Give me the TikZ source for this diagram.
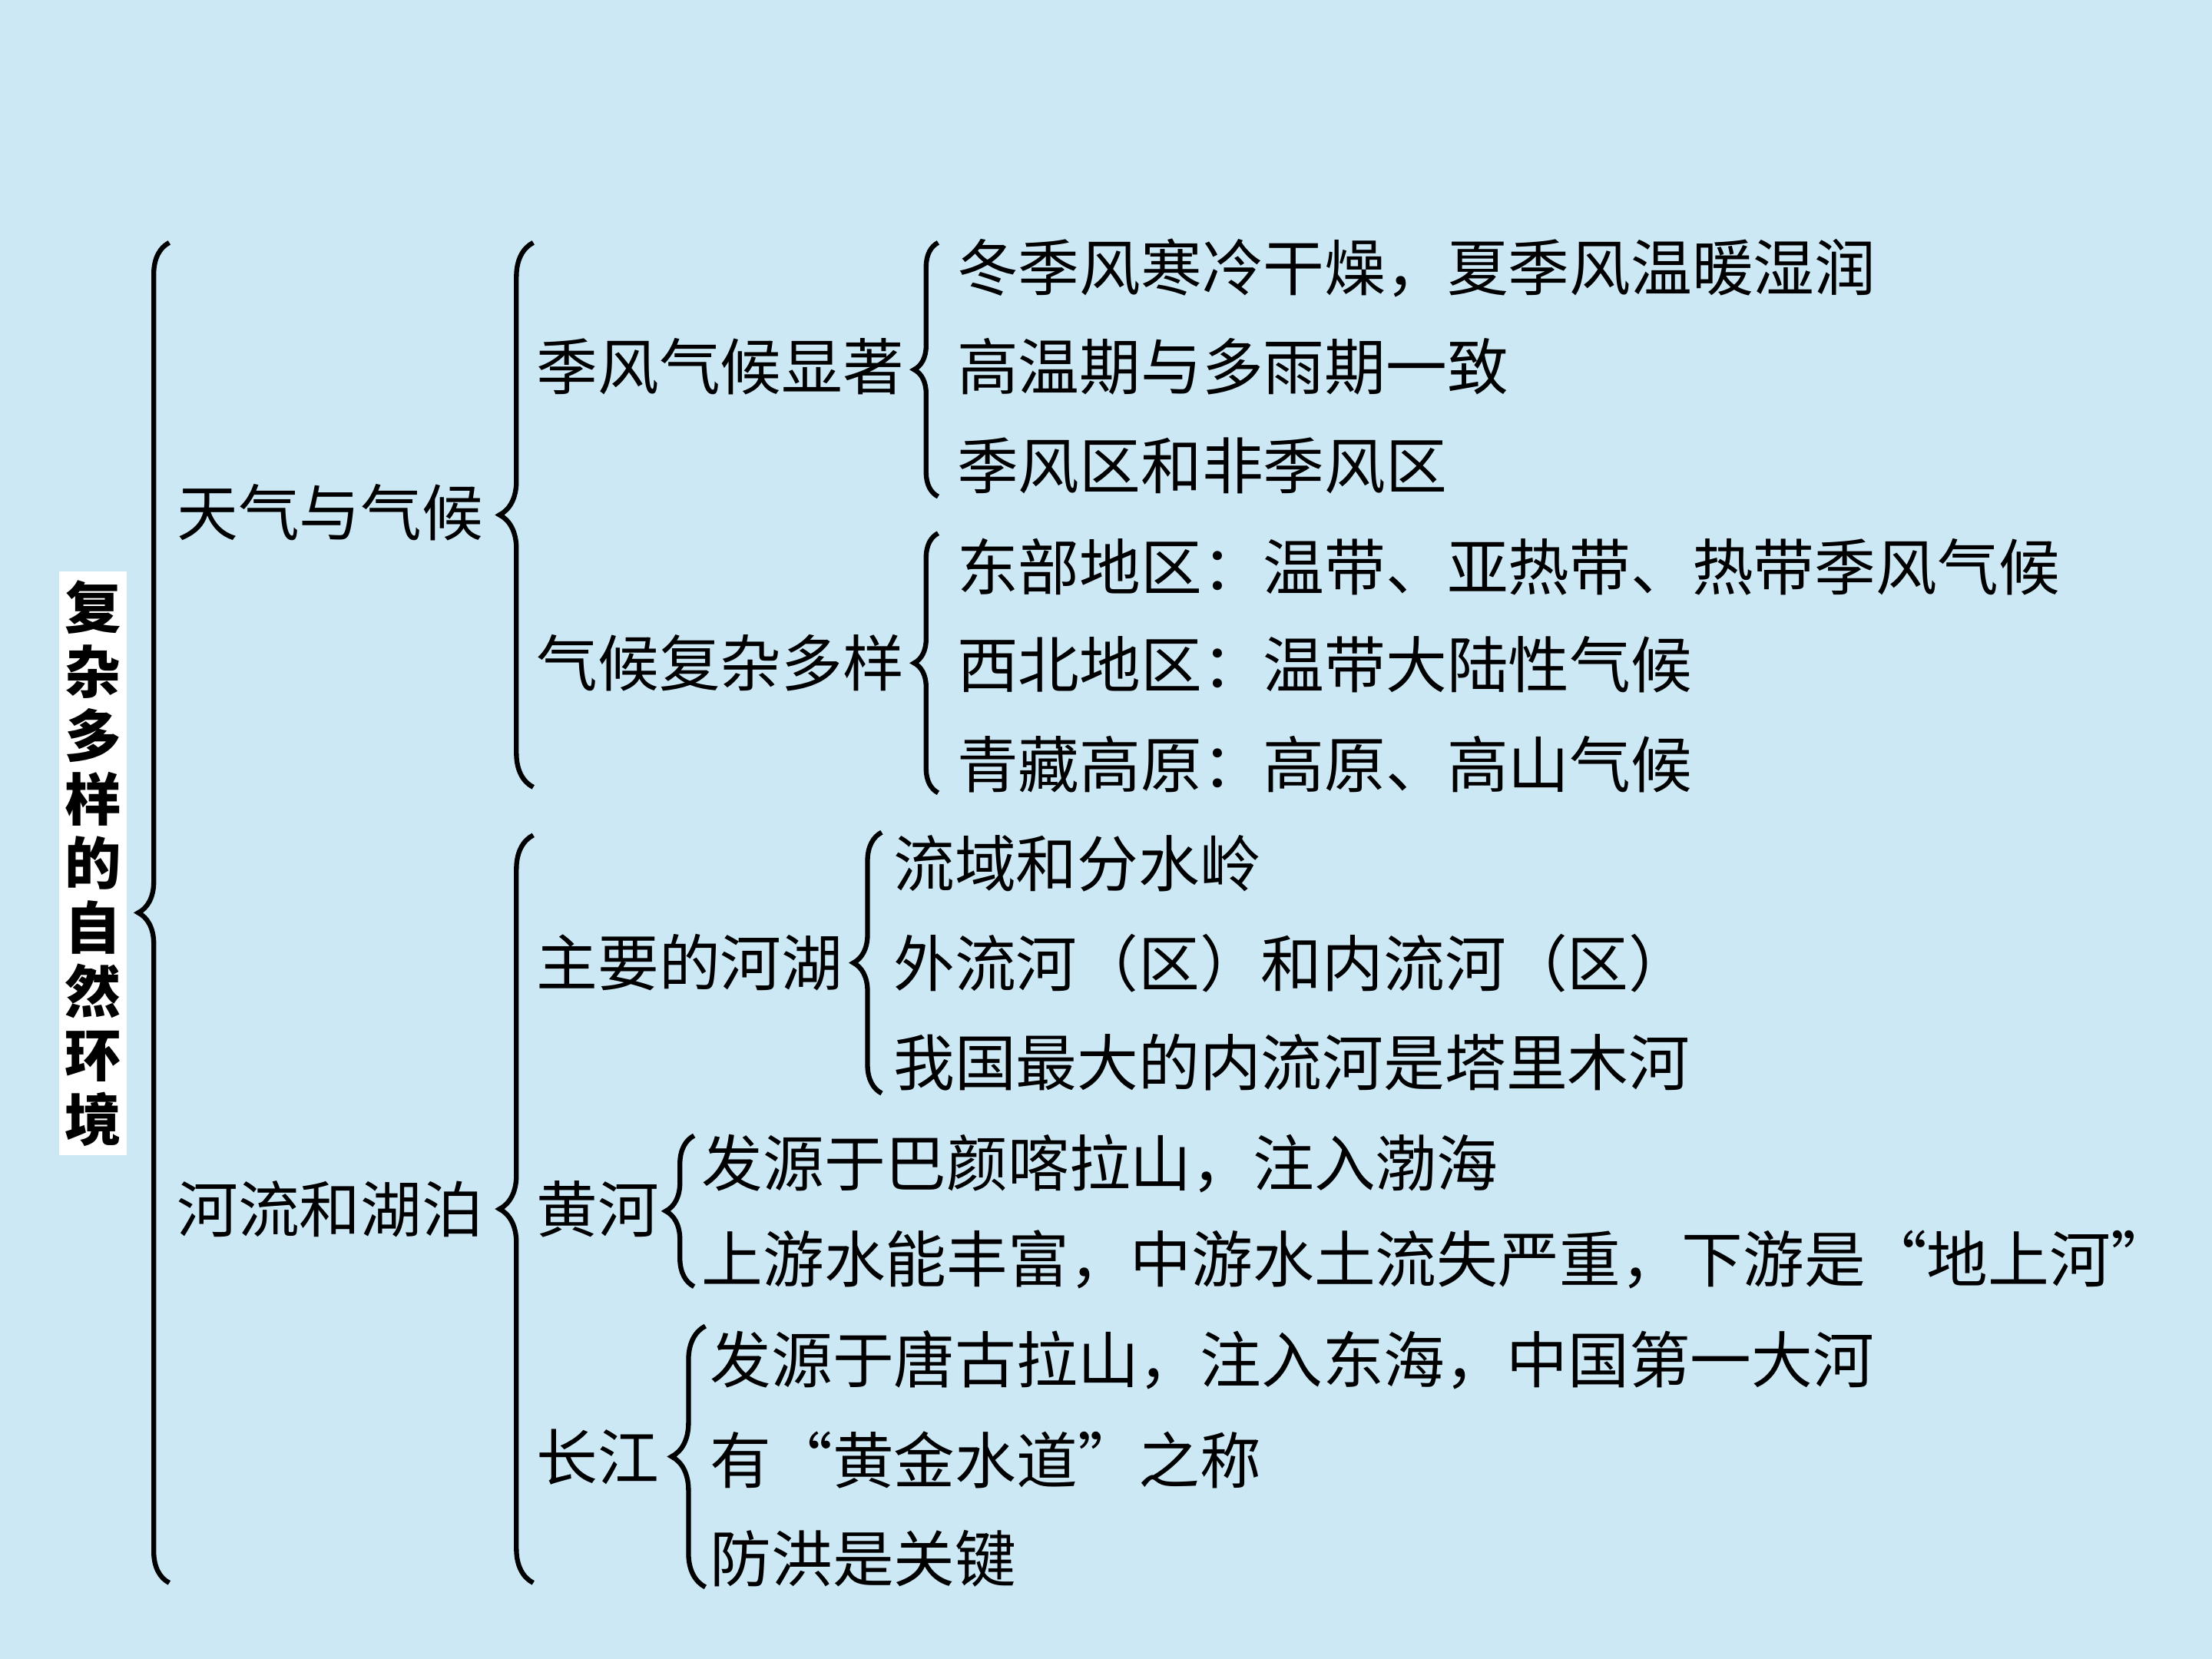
\documentclass[tikz,border=0pt]{standalone}
\usepackage{fontspec}
\setmainfont{Noto Sans CJK SC}
\usepackage{xcolor}
\usepackage{tikz}
\usetikzlibrary{calc,decorations.pathreplacing}
\definecolor{slidebg}{RGB}{205,232,245}
\newcommand{\mapfont}{\fontsize{22.7}{26}\selectfont}
\tikzset{
  topic/.style={anchor=west, inner sep=0pt, font=\mapfont},
  leaf/.style={anchor=west, inner sep=0pt, font=\mapfont},
  titlebox/.style={fill=white, inner xsep=2pt, inner ysep=3.5pt, align=center,
    font=\bfseries\fontsize{20.9}{23.7}\selectfont},
  brace/.style={decorate, decoration={brace, amplitude=#1}, line width=1.8pt}
}

\begin{document}
\begin{tikzpicture}[x=0.018367cm,y=-0.018367cm]
  \fill[slidebg] (0,0) rectangle (1568,1176);
  \useasboundingbox (0,0) rectangle (1568,1176);

  % root
  \node[titlebox] (title) at (66,612) {复\\杂\\多\\样\\的\\自\\然\\环\\境};

  % first level
  \node[topic] (weather) at (125,363) {天气与气候};
  \node[topic] (rivers) at (125,857) {河流和湖泊};

  % second level
  \node[topic] (monsoon) at (380,260) {季风气候显著};
  \node[topic] (climate) at (380,470) {气候复杂多样};
  \node[topic] (lakes) at (380,682) {主要的河湖};
  \node[topic] (yellow) at (380,857) {黄河};
  \node[topic] (yangtze) at (380,1033) {长江};

  % leaves
  \node[leaf] (mon1) at (678,190) {冬季风寒冷干燥，夏季风温暖湿润};
  \node[leaf] (mon2) at (678,260) {高温期与多雨期一致};
  \node[leaf] (mon3) at (678,330) {季风区和非季风区};

  \node[leaf] (cli1) at (678,402) {东部地区：温带、亚热带、热带季风气候};
  \node[leaf] (cli2) at (678,471) {西北地区：温带大陆性气候};
  \node[leaf] (cli3) at (678,542) {青藏高原：高原、高山气候};

  \node[leaf] (lak1) at (633,612) {流域和分水岭};
  \node[leaf] (lak2) at (633,683) {外流河（区）和内流河（区）};
  \node[leaf] (lak3) at (633,753) {我国最大的内流河是塔里木河};

  \node[leaf] (yel1) at (497,825) {发源于巴颜喀拉山，注入渤海};
  \node[leaf] (yel2) at (497,893) {上游水能丰富，中游水土流失严重，下游是“地上河”};

  \node[leaf] (yan1) at (503,964) {发源于唐古拉山，注入东海，中国第一大河};
  \node[leaf] (yan2) at (503,1035) {有“黄金水道”之称};
  \node[leaf] (yan3) at (503,1105) {防洪是关键};

  % braces
  \draw[brace=11.5pt] ($(rivers.west)+(-5,265)$) -- ($(weather.west)+(-5,-191)$);
  \draw[brace=12.5pt] ($(climate.west)+(-2,88)$) -- ($(monsoon.west)+(-2,-88)$);
  \draw[brace=12.5pt] ($(yangtze.west)+(-2,89)$) -- ($(lakes.west)+(-2,-90)$);
  \draw[brace=8.9pt] ($(mon3.west)+(-13,22)$) -- ($(mon1.west)+(-13,-18)$);
  \draw[brace=8.9pt] ($(cli3.west)+(-13,20)$) -- ($(cli1.west)+(-13,-24)$);
  \draw[brace=10.5pt] ($(lak3.west)+(-8,22)$) -- ($(lak1.west)+(-8,-22)$);
  \draw[brace=10.5pt] ($(yel2.west)+(-5,19)$) -- ($(yel1.west)+(-5,-20)$);
  \draw[brace=12.5pt] ($(yan3.west)+(-3,20)$) -- ($(yan1.west)+(-3,-24)$);
\end{tikzpicture}
\end{document}
